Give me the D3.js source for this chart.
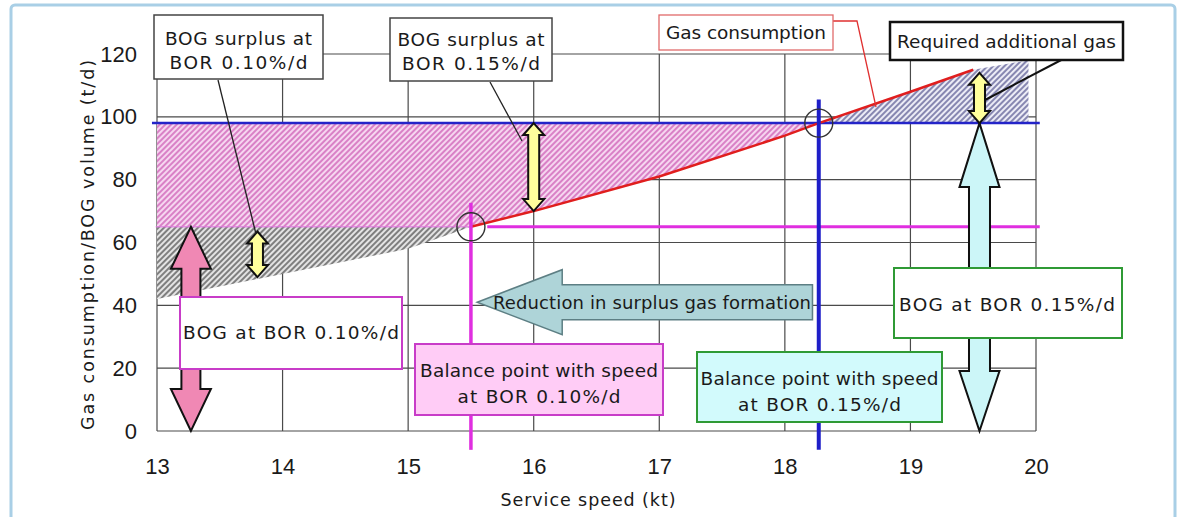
<!DOCTYPE html>
<html>
<head>
<meta charset="utf-8">
<script src="https://cdn.jsdelivr.net/npm/d3@7/dist/d3.min.js"></script>
<style>
  html, body { margin: 0; padding: 0; background: #fff; }
  svg { display: block; }
  text { font-family: "DejaVu Sans", "Liberation Sans", sans-serif; fill: #1a1a1a; }
  .tick text { font-family: "Liberation Sans", Arial, sans-serif; font-size: 22px; fill: #1a1a1a; }
</style>
</head>
<body>
<svg id="chart" width="1181" height="517"></svg>
<script>
// ---- data ----
const speedTicks = [13, 14, 15, 16, 17, 18, 19, 20];
const volumeTicks = [0, 20, 40, 60, 80, 100, 120];

// gas consumption (t/d) against service speed (kt)
const gasSpeed  = [13, 14, 15, 15.5, 16, 17, 18, 18.27, 19, 19.5, 19.94];
const gasVolume = [42, 50, 58, 65,   70, 81, 94, 98,    108, 115, 118];

// BOG volume at the two boil-off rates
const bogRate = ['0.10', '0.15'];
const bogVolume = [65, 98];
// balance points (speed where consumption = BOG)
const balanceSpeed = [15.5, 18.27];

// arrows showing differences: [speed, from, to]
const surplusArrows = [[13.8, 49, 63.5], [16.0, 70, 98], [19.55, 98, 114]];
const bogArrowSpeed = [13.27, 19.55];

// ---- layout ----
const svg = d3.select('#chart');
const x = d3.scaleLinear().domain([13, 20]).range([157, 1036]);
const y = d3.scaleLinear().domain([0, 120]).range([431, 54]);

const gas = gasSpeed.map((s, i) => ({ s, v: gasVolume[i] }));

// outer frame
svg.append('rect')
  .attr('x', 11).attr('y', 5).attr('width', 1164).attr('height', 530)
  .attr('rx', 4)
  .attr('fill', '#fff')
  .attr('stroke', '#a9cfe6')
  .attr('stroke-width', 3);

// hatch patterns
const defs = svg.append('defs');
function hatch(id, bg, line) {
  const p = defs.append('pattern')
    .attr('id', id)
    .attr('width', 4).attr('height', 4)
    .attr('patternUnits', 'userSpaceOnUse')
    .attr('patternTransform', 'rotate(45)');
  p.append('rect').attr('width', 4).attr('height', 4).attr('fill', bg);
  p.append('line').attr('x1', 1).attr('y1', 0).attr('x2', 1).attr('y2', 4)
    .attr('stroke', line).attr('stroke-width', 1.9);
}
hatch('hPink', '#f6d6f0', '#d87cc4');
hatch('hGray', '#e4e4e4', '#7a7a7a');
hatch('hBlue', '#ececf6', '#8282ae');

// grid
const grid = svg.append('g').attr('class', 'grid');
grid.selectAll('.vg').data(speedTicks).enter().append('line')
  .attr('x1', d => x(d)).attr('x2', d => x(d))
  .attr('y1', y(120)).attr('y2', y(0))
  .attr('stroke', '#4a4a4a').attr('stroke-width', 1.2);
grid.selectAll('.hg').data(volumeTicks).enter().append('line')
  .attr('x1', x(13)).attr('x2', x(20))
  .attr('y1', d => y(d)).attr('y2', d => y(d))
  .attr('stroke', '#4a4a4a').attr('stroke-width', 1.2);

// axes (labels only)
const xAxis = svg.append('g')
  .attr('transform', `translate(0,${y(0)})`)
  .call(d3.axisBottom(x).tickValues(speedTicks).tickSize(0).tickPadding(27).tickFormat(d3.format('d')));
xAxis.select('.domain').remove();
const yAxis = svg.append('g')
  .attr('transform', `translate(${x(13)},0)`)
  .call(d3.axisLeft(y).tickValues(volumeTicks).tickSize(0).tickPadding(20));
yAxis.select('.domain').remove();

// axis titles
svg.append('text')
  .attr('x', 588).attr('y', 506)
  .attr('text-anchor', 'middle')
  .style('font-size', '17.5px')
  .attr('textLength', 175).attr('lengthAdjust', 'spacing')
  .text('Service speed (kt)');
svg.append('text')
  .attr('transform', 'translate(94,245) rotate(-90)')
  .attr('text-anchor', 'middle')
  .style('font-size', '17.5px')
  .attr('textLength', 370).attr('lengthAdjust', 'spacing')
  .text('Gas consumption/BOG volume (t/d)');

// ---- hatched regions ----
const lowBog = bogVolume[0], highBog = bogVolume[1];
const lowBal = balanceSpeed[0], highBal = balanceSpeed[1];

// surplus at 0.15%/d above max(consumption, low BOG)
svg.append('path')
  .datum(gas.filter(d => d.s <= highBal))
  .attr('fill', 'url(#hPink)')
  .attr('d', d3.area()
    .x(d => x(d.s))
    .y0(d => y(Math.max(d.v, lowBog)))
    .y1(y(highBog)));

// surplus at 0.10%/d
svg.append('path')
  .datum(gas.filter(d => d.s <= lowBal))
  .attr('fill', 'url(#hGray)')
  .attr('d', d3.area()
    .x(d => x(d.s))
    .y0(d => y(d.v))
    .y1(y(lowBog)));

// required additional gas
svg.append('path')
  .datum(gas.filter(d => d.s >= highBal))
  .attr('fill', 'url(#hBlue)')
  .attr('d', d3.area()
    .x(d => x(d.s))
    .y0(y(highBog))
    .y1(d => y(d.v)));

// BOG lines
svg.append('line')
  .attr('x1', x(12.99)).attr('x2', x(lowBal))
  .attr('y1', y(lowBog)).attr('y2', y(lowBog))
  .attr('stroke', '#e070e0').attr('stroke-width', 1.5).attr('opacity', 0.7);
svg.append('line')
  .attr('x1', x(15.63)).attr('x2', x(20.03))
  .attr('y1', y(lowBog)).attr('y2', y(lowBog))
  .attr('stroke', '#e02ee0').attr('stroke-width', 3);
svg.append('line')
  .attr('x1', x(12.96)).attr('x2', x(20.03))
  .attr('y1', y(highBog)).attr('y2', y(highBog))
  .attr('stroke', '#2424c8').attr('stroke-width', 2.5);

// gas consumption line
svg.append('path')
  .datum(gas.filter(d => d.s >= lowBal && d.s <= 19.5))
  .attr('fill', 'none')
  .attr('stroke', '#e01e1e')
  .attr('stroke-width', 2.5)
  .attr('d', d3.line().x(d => x(d.s)).y(d => y(d.v)));

// balance speed verticals
svg.append('line')
  .attr('x1', x(lowBal)).attr('x2', x(lowBal))
  .attr('y1', y(72.6)).attr('y2', y(-6))
  .attr('stroke', '#e02ee0').attr('stroke-width', 3.5);
svg.append('line')
  .attr('x1', x(highBal)).attr('x2', x(highBal))
  .attr('y1', y(105.5)).attr('y2', y(-6))
  .attr('stroke', '#1e1ec8').attr('stroke-width', 4);

// balance circles
svg.selectAll('.bal').data(balanceSpeed).enter().append('circle')
  .attr('cx', d => x(d))
  .attr('cy', (d, i) => y(bogVolume[i]))
  .attr('r', 14)
  .attr('fill', 'none')
  .attr('stroke', '#333')
  .attr('stroke-width', 1.4);

// ---- arrows ----
function vArrow(cx, yTop, yBot, sw, hw, hlTop, hlBot) {
  return [
    [cx, yTop], [cx + hw, yTop + hlTop], [cx + sw, yTop + hlTop],
    [cx + sw, yBot - hlBot], [cx + hw, yBot - hlBot], [cx, yBot],
    [cx - hw, yBot - hlBot], [cx - sw, yBot - hlBot],
    [cx - sw, yTop + hlTop], [cx - hw, yTop + hlTop]
  ].map(p => p.join(',')).join(' ');
}

// big BOG arrows
svg.append('polygon')
  .attr('points', vArrow(x(bogArrowSpeed[0]), y(lowBog), y(0), 9.5, 20, 42, 42))
  .attr('fill', '#f088b4').attr('stroke', '#111').attr('stroke-width', 2);
svg.append('polygon')
  .attr('points', vArrow(x(bogArrowSpeed[1]), y(highBog), y(0), 10.5, 20, 64, 60))
  .attr('fill', '#ccf6f8').attr('stroke', '#111').attr('stroke-width', 2);

// small yellow arrows
svg.selectAll('.ya').data(surplusArrows).enter().append('polygon')
  .attr('points', d => vArrow(x(d[0]), y(d[2]), y(d[1]), 5.5, 10.5, 12, 12))
  .attr('fill', '#ffff9c').attr('stroke', '#111').attr('stroke-width', 2);

// reduction arrow (from high balance speed back to low balance speed)
const rTip = x(15.55), rEnd = x(18.22), rY = y(41);
svg.append('polygon')
  .attr('points', [
    [rTip, rY], [rTip + 85, rY - 32.5], [rTip + 85, rY - 17.5], [rEnd, rY - 17.5],
    [rEnd, rY + 17.5], [rTip + 85, rY + 17.5], [rTip + 85, rY + 32.5]
  ].map(p => p.join(',')).join(' '))
  .attr('fill', '#aed4d8').attr('stroke', '#5d7f84').attr('stroke-width', 1.5);
svg.append('text')
  .attr('x', 493).attr('y', 309)
  .style('font-size', '18px')
  .attr('textLength', 318).attr('lengthAdjust', 'spacing')
  .text('Reduction in surplus gas formation');

// ---- leader lines ----
const leaders = [
  { pts: [[218, 80], [256, 234]], stroke: '#222', w: 1.3 },
  { pts: [[490, 82], [522, 141]], stroke: '#222', w: 1.3 },
  { pts: [[833, 21], [857, 21], [876, 107]], stroke: '#e03030', w: 1.3 },
  { pts: [[1067, 57], [985, 100]], stroke: '#111', w: 2 }
];
svg.selectAll('.leader').data(leaders).enter().append('polyline')
  .attr('points', d => d.pts.map(p => p.join(',')).join(' '))
  .attr('fill', 'none')
  .attr('stroke', d => d.stroke)
  .attr('stroke-width', d => d.w);

// ---- annotation boxes ----
const boxes = [
  { x0: 154, y0: 15, x1: 323, y1: 79, fill: '#fff', stroke: '#444', sw: 1.5, anchor: 'middle',
    lines: [['BOG surplus at', 45, 147], [`BOR ${bogRate[0]}%/d`, 69, 138]] },
  { x0: 390, y0: 18, x1: 552, y1: 81, fill: '#fff', stroke: '#444', sw: 1.5, anchor: 'middle',
    lines: [['BOG surplus at', 46, 147], [`BOR ${bogRate[1]}%/d`, 70, 138]] },
  { x0: 659, y0: 15, x1: 833, y1: 50, fill: '#fff', stroke: '#e06a6a', sw: 1.3, anchor: 'middle',
    lines: [['Gas consumption', 39, 160]] },
  { x0: 890, y0: 22, x1: 1123, y1: 60, fill: '#fff', stroke: '#111', sw: 2.5, anchor: 'middle',
    lines: [['Required additional gas', 48, 219]] },
  { x0: 180, y0: 297, x1: 402, y1: 369, fill: '#fff', stroke: '#c83cc8', sw: 2, anchor: 'start', tx: 183,
    lines: [[`BOG at BOR ${bogRate[0]}%/d`, 339, 216]] },
  { x0: 415, y0: 344, x1: 663, y1: 415, fill: '#ffccf6', stroke: '#c83cc8', sw: 2, anchor: 'middle',
    lines: [['Balance point with speed', 377, 238], [`at BOR ${bogRate[0]}%/d`, 403, 163]] },
  { x0: 697, y0: 352, x1: 942, y1: 422, fill: '#d2fafc', stroke: '#2f9a35', sw: 2, anchor: 'middle',
    lines: [['Balance point with speed', 385, 238], [`at BOR ${bogRate[1]}%/d`, 411, 163]] },
  { x0: 894, y0: 268, x1: 1122, y1: 338, fill: '#fff', stroke: '#2f9a35', sw: 2, anchor: 'start', tx: 899,
    lines: [[`BOG at BOR ${bogRate[1]}%/d`, 311, 216]] }
];

const boxG = svg.selectAll('.box').data(boxes).enter().append('g').attr('class', 'box');
boxG.append('rect')
  .attr('x', d => d.x0).attr('y', d => d.y0)
  .attr('width', d => d.x1 - d.x0).attr('height', d => d.y1 - d.y0)
  .attr('fill', d => d.fill)
  .attr('stroke', d => d.stroke)
  .attr('stroke-width', d => d.sw);
boxG.each(function(d) {
  const g = d3.select(this);
  d.lines.forEach(([txt, by, w]) => {
    g.append('text')
      .attr('x', d.anchor === 'middle' ? (d.x0 + d.x1) / 2 : d.tx)
      .attr('y', by)
      .attr('text-anchor', d.anchor)
      .style('font-size', '18.5px')
      .attr('textLength', w).attr('lengthAdjust', 'spacing')
      .text(txt);
  });
});
</script>
</body>
</html>
